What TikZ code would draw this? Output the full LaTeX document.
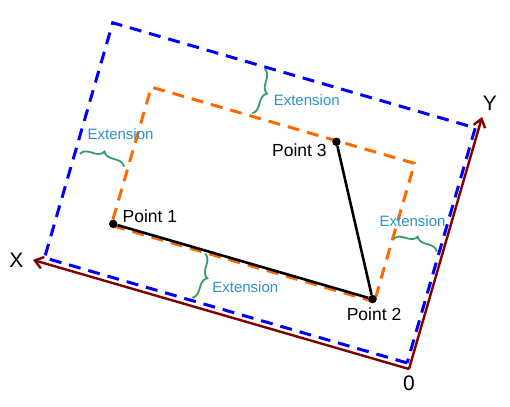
\documentclass[tikz,border=0pt]{standalone}
\usepackage{fontspec}
\setmainfont{Liberation Sans}
\usepackage{tikz}
\usetikzlibrary{arrows.meta,decorations.pathreplacing,positioning}
\definecolor{boxblue}{HTML}{0000FF}
\definecolor{boxorange}{HTML}{FF6A00}
\definecolor{axisred}{HTML}{800000}
\definecolor{bracegreen}{HTML}{3A9A6A}
\definecolor{extblue}{HTML}{2B93C8}

\tikzset{
  outerbox/.style={boxblue, line width=3pt, dash pattern=on 12pt off 8pt},
  innerbox/.style={boxorange, line width=3pt, dash pattern=on 12pt off 8pt},
  axis/.style={axisred, line width=2.4pt, -{Straight Barb[length=8pt,width=12pt]}},
  seg/.style={black, line width=2.6pt},
  dot/.style={circle, fill=black, inner sep=0pt, minimum size=8.5pt},
  ptlabel/.style={inner sep=0pt, font=\fontsize{17.5}{20}\selectfont},
  axlabel/.style={inner sep=0pt, font=\fontsize{21}{24}\selectfont},
  extlabel/.style={inner sep=0pt, text=extblue, font=\fontsize{15}{18}\selectfont},
  extbrace/.style={bracegreen, line width=1.8pt, decorate, decoration={brace, amplitude=9pt}},
}

\begin{document}
\begin{tikzpicture}[x=1pt, y=1pt]
  \useasboundingbox (0,0) rectangle (510,406);

  % tilted frame: first value along X, second along Y
  \begin{scope}[shift={(409pt,37pt)}, x={(-0.9604pt,0.2785pt)}, y={(0.2785pt,0.9604pt)}]
    \coordinate (o) at (0,0);
    \coordinate (xtip) at (391.5,0);
    \coordinate (ytip) at (0,262.5);

    % Extended box
    \coordinate (ob1) at (3.5,5.3);
    \coordinate (ob2) at (381,5.3);
    \coordinate (ob3) at (381,250);
    \coordinate (ob4) at (3.5,250);
    \draw[outerbox] (ob1) -- (ob2) -- (ob3) -- (ob4) -- cycle;

    % Bounding box of the points
    \coordinate (ib1) at (52,55);
    \coordinate (ib2) at (326,55);
    \coordinate (ib3) at (326,199);
    \coordinate (ib4) at (52,199);
    \draw[innerbox] (ib1) -- (ib2) -- (ib3) -- (ib4) -- cycle;

    % Axes
    \draw[axis] (o) -- (xtip);
    \draw[axis] (o) -- (ytip);

    % Points
    \node[dot] (p1) at (324.5,57) {};
    \node[dot] (p2) at (54.5,57) {};
    \node[dot] (p3) at (133,198) {};
    \draw[seg] (p1) -- (p2) -- (p3);

    % Braces
    \coordinate (lbs) at (376,115);
    \coordinate (lbe) at (330,115);
    \coordinate (tbs) at (222,248);
    \coordinate (tbe) at (222,202);
    \coordinate (rbs) at (51,120.5);
    \coordinate (rbe) at (6,120.5);
    \coordinate (bbs) at (228,54);
    \coordinate (bbe) at (228,8);
    \draw[extbrace] (lbs) -- (lbe);
    \draw[extbrace] (tbs) -- (tbe);
    \draw[extbrace] (rbs) -- (rbe);
    \draw[extbrace] (bbs) -- (bbe);

    \node[extlabel] (ext1) at (342.5,145.4) {Extension};
    \node[extlabel] (ext2) at (173.1,229.8) {Extension};
    \node[extlabel] (ext3) at (37.9,143.3) {Extension};
    \node[extlabel] (ext4) at (180.1,33.3) {Extension};
  \end{scope}

  % Labels
  \node[ptlabel] (l1) at ([xshift=36.7pt,yshift=8pt]p1) {Point 1};
  \node[ptlabel] (l2) at ([xshift=1.5pt,yshift=-15.2pt]p2) {Point 2};
  \node[ptlabel] (l3) at ([xshift=-37pt,yshift=-8.3pt]p3) {Point 3};
  \node[axlabel, left=9.5pt of xtip] (xl) {X};
  \node[axlabel, above right=6.2pt and 0.6pt of ytip] (yl) {Y};
  \node[axlabel, below=6.5pt of o] (ol) {0};
\end{tikzpicture}
\end{document}
